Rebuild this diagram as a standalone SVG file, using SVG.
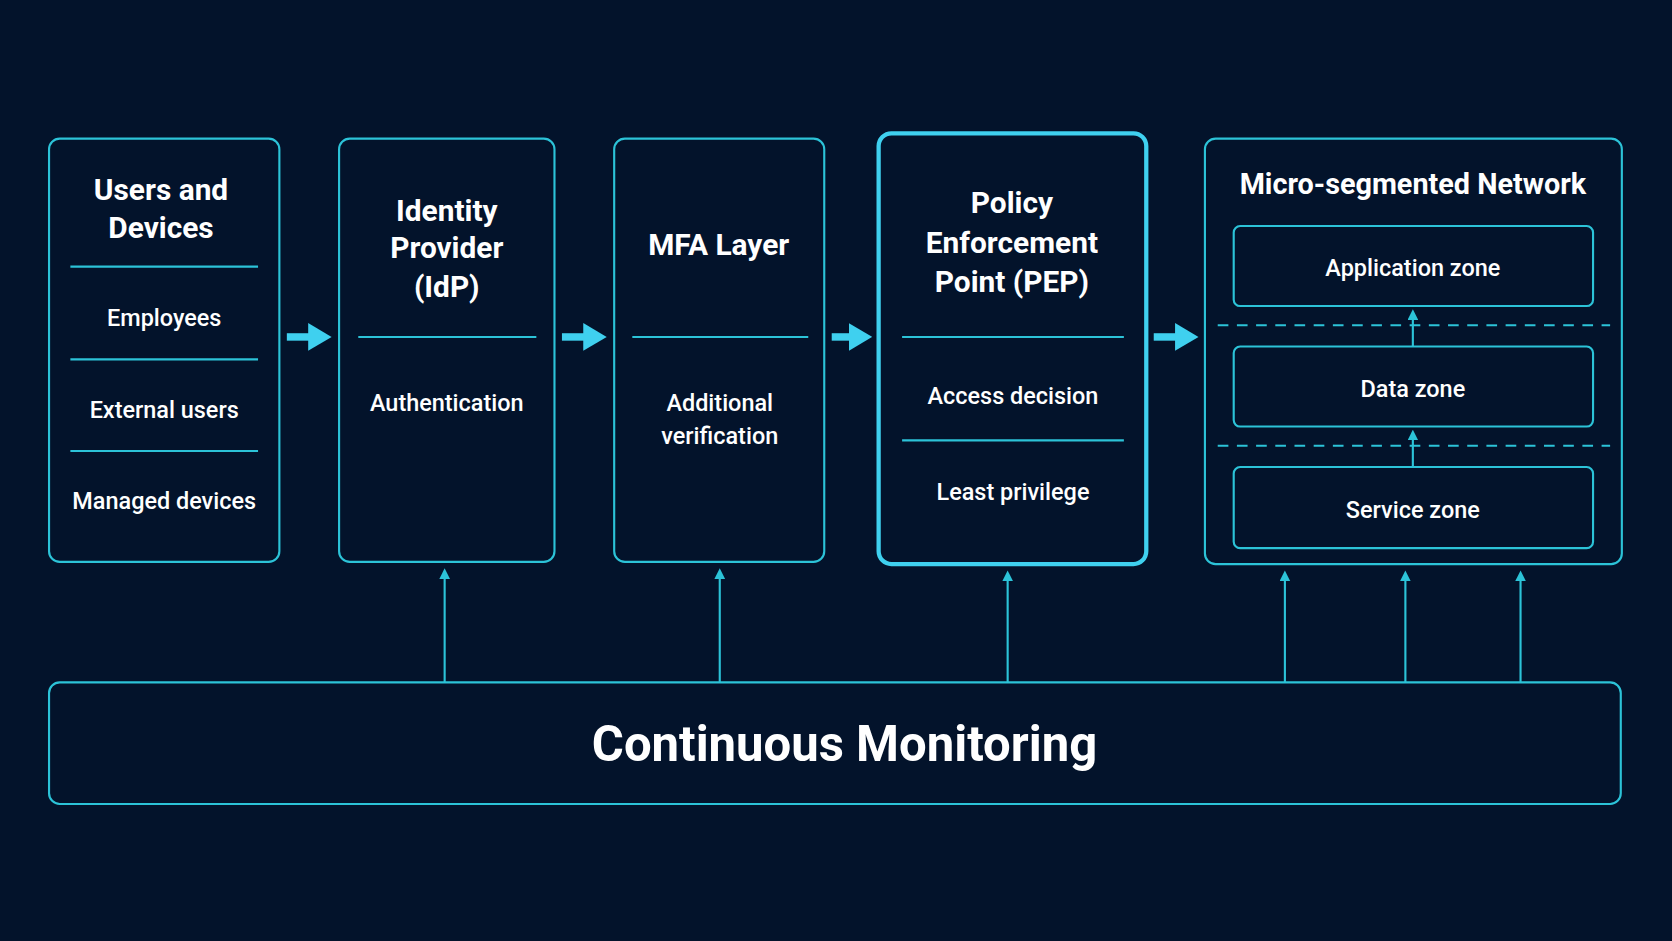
<svg xmlns="http://www.w3.org/2000/svg" width="1672" height="941" viewBox="0 0 1672 941">
<defs>
<style>
.box{fill:none;stroke:#2cc3d8;stroke-width:2}
.div{stroke:#2cc3d8;stroke-width:2}
.t{font-family:Roboto,"Liberation Sans",sans-serif;font-weight:bold;font-size:28px;fill:#fff;text-anchor:middle}
.b{font-family:Roboto,"Liberation Sans",sans-serif;font-weight:500;font-size:22px;fill:#fff;text-anchor:middle}
.c{stroke:#2cc3d8;stroke-width:2;fill:none}
.big{stroke:#3fd0ef;stroke-width:7;fill:none}
</style>
<marker id="ah" markerWidth="10" markerHeight="10" refX="5" refY="5" orient="auto" markerUnits="userSpaceOnUse"><path d="M0,0 L10,5 L0,10 Z" fill="#2cc3d8"/></marker>
<marker id="bh" markerWidth="22" markerHeight="26" refX="4" refY="13" orient="auto" markerUnits="userSpaceOnUse"><path d="M0,0 L22,13 L0,26 Z" fill="#3fd0ef"/></marker>
</defs>
<rect width="1672" height="941" fill="#03132b"/>
<g transform="scale(1.0663)">
<g id="users">
<rect class="box" x="46" y="130" width="216" height="397" rx="10"/>
<text class="t" x="151" y="188">Users and</text><text class="t" x="151" y="223">Devices</text>
<line class="div" x1="66" y1="250" x2="242" y2="250"/>
<text class="b" x="154" y="306">Employees</text>
<line class="div" x1="66" y1="337" x2="242" y2="337"/>
<text class="b" x="154" y="392">External users</text>
<line class="div" x1="66" y1="423" x2="242" y2="423"/>
<text class="b" x="154" y="477">Managed devices</text>
</g>
<g id="idp">
<rect class="box" x="318" y="130" width="202" height="397" rx="10"/>
<text class="t" x="419" y="207">Identity</text><text class="t" x="419" y="242">Provider</text><text class="t" x="419" y="279">(IdP)</text>
<line class="div" x1="336" y1="316" x2="503" y2="316"/>
<text class="b" x="419" y="385">Authentication</text>
</g>
<g id="mfa">
<rect class="box" x="576" y="130" width="197" height="397" rx="10"/>
<text class="t" x="674" y="239">MFA Layer</text>
<line class="div" x1="593" y1="316" x2="758" y2="316"/>
<text class="b" x="675" y="385">Additional</text><text class="b" x="675" y="416">verification</text>
</g>
<g id="pep">
<rect class="box" x="824" y="125" width="251" height="404" rx="12" style="stroke:#3fd0ef;stroke-width:4"/>
<text class="t" x="949" y="200">Policy</text><text class="t" x="949" y="237">Enforcement</text><text class="t" x="949" y="274">Point (PEP)</text>
<line class="div" x1="846" y1="316" x2="1054" y2="316"/>
<text class="b" x="950" y="379">Access decision</text>
<line class="div" x1="846" y1="413" x2="1054" y2="413"/>
<text class="b" x="950" y="469">Least privilege</text>
</g>
<g id="network">
<rect class="box" x="1130" y="130" width="391" height="399" rx="10"/>
<text class="t" x="1325" y="182" style="font-size:27px">Micro-segmented Network</text>
<line class="div" x1="1142" y1="305" x2="1510" y2="305" stroke-dasharray="10,8"/>
<line class="div" x1="1142" y1="418" x2="1510" y2="418" stroke-dasharray="10,8"/>
</g>
<g id="appzone"><rect class="box" x="1157" y="212" width="337" height="75" rx="6"/><text class="b" x="1325" y="259">Application zone</text></g>
<g id="datazone"><rect class="box" x="1157" y="325" width="337" height="75" rx="6"/><text class="b" x="1325" y="372">Data zone</text></g>
<g id="servicezone"><rect class="box" x="1157" y="438" width="337" height="76" rx="6"/><text class="b" x="1325" y="486">Service zone</text></g>
<g id="monitoring">
<rect class="box" x="46" y="640" width="1474" height="114" rx="10"/>
<text class="t" x="792" y="714" style="font-size:46px">Continuous Monitoring</text>
</g>
<g id="connectors">
<line class="big" x1="269" y1="316" x2="293" y2="316" marker-end="url(#bh)"/>
<line class="big" x1="527" y1="316" x2="551" y2="316" marker-end="url(#bh)"/>
<line class="big" x1="780" y1="316" x2="800" y2="316" marker-end="url(#bh)"/>
<line class="big" x1="1082" y1="316" x2="1106" y2="316" marker-end="url(#bh)"/>
<line class="c" x1="1325" y1="325" x2="1325" y2="295" marker-end="url(#ah)"/>
<line class="c" x1="1325" y1="438" x2="1325" y2="408" marker-end="url(#ah)"/>
<line class="c" x1="417" y1="640" x2="417" y2="538" marker-end="url(#ah)"/>
<line class="c" x1="675" y1="640" x2="675" y2="538" marker-end="url(#ah)"/>
<line class="c" x1="945" y1="640" x2="945" y2="540" marker-end="url(#ah)"/>
<line class="c" x1="1205" y1="640" x2="1205" y2="540" marker-end="url(#ah)"/>
<line class="c" x1="1318" y1="640" x2="1318" y2="540" marker-end="url(#ah)"/>
<line class="c" x1="1426" y1="640" x2="1426" y2="540" marker-end="url(#ah)"/>
</g>
</g>
</svg>
